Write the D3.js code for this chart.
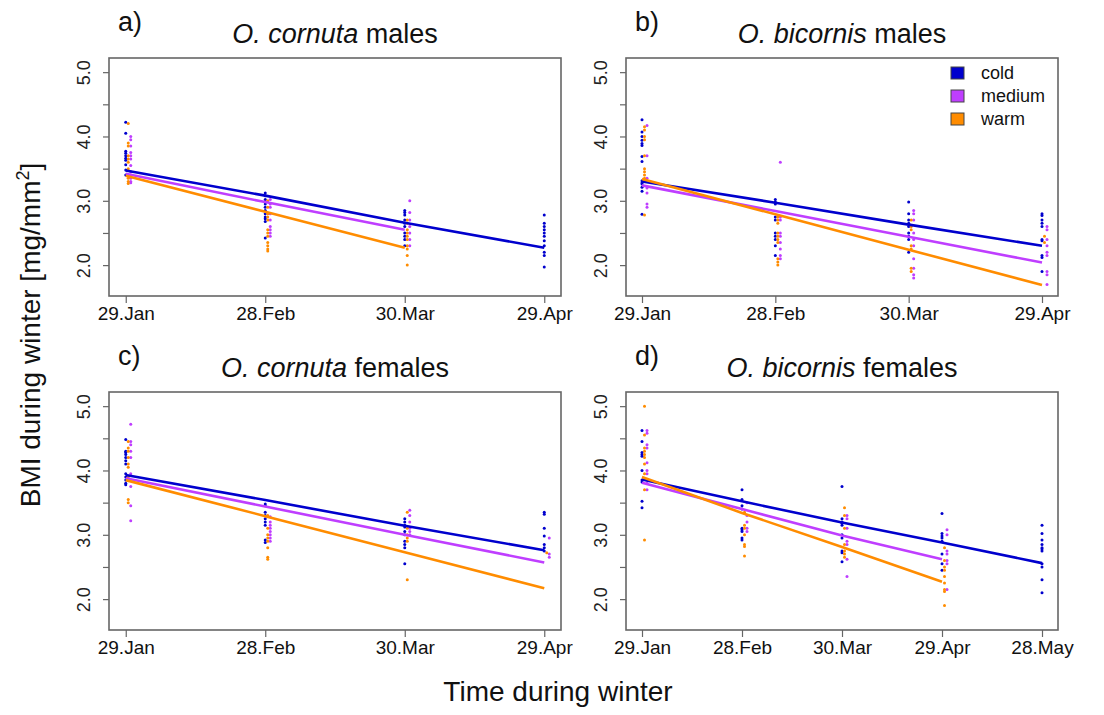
<!DOCTYPE html>
<html>
<head>
<meta charset="utf-8">
<script src="https://cdn.jsdelivr.net/npm/d3@7"></script>
<style>
  body { margin: 0; background: #fff; }
  svg { display: block; font-family: "Liberation Sans", Arial, sans-serif; }
</style>
</head>
<body>
<svg id="chart" width="1104" height="715"></svg>
<script>
// sampling dates (days after 29 Jan) and their labels
const sampleDays = [0, 30, 60, 90, 120];
const sampleLabels = ["29.Jan", "28.Feb", "30.Mar", "29.Apr", "28.May"];
const groups = ["cold", "medium", "warm"];
const groupColors = { cold: "#0000CD", medium: "#BF3EFF", warm: "#FF8C00" };

// a) O. cornuta males - BMI per sampling date
const cornutaMalesCold = [
  [4.22, 4.05, 3.77, 3.74, 3.70, 3.66, 3.63, 3.56, 3.48, 3.40],
  [3.12, 3.08, 3.02, 2.95, 2.90, 2.85, 2.80, 2.75, 2.72, 2.68, 2.42],
  [2.85, 2.82, 2.78, 2.70, 2.65, 2.60, 2.50, 2.45, 2.40, 2.30],
  [2.78, 2.65, 2.60, 2.55, 2.50, 2.45, 2.38, 2.30, 2.20, 2.15, 1.97]
];
const cornutaMalesMedium = [
  [4.00, 3.95, 3.85, 3.75, 3.70, 3.65, 3.55, 3.45, 3.40, 3.35, 3.30, 3.28],
  [3.02, 2.95, 2.90, 2.80, 2.70, 2.60, 2.55, 2.50, 2.45],
  [3.00, 2.82, 2.70, 2.60, 2.50, 2.40, 2.30]
];
const cornutaMalesWarm = [
  [4.20, 3.90, 3.85, 3.70, 3.65, 3.60, 3.50, 3.40, 3.35, 3.30, 3.27],
  [3.00, 2.90, 2.80, 2.75, 2.70, 2.55, 2.50, 2.45, 2.35, 2.30, 2.25, 2.22],
  [2.70, 2.65, 2.55, 2.50, 2.45, 2.40, 2.30, 2.25, 2.15, 2.00]
];
const cornutaMalesFit = { cold: [3.47, 3.08, 2.66, 2.27], medium: [3.42, 2.98, 2.55], warm: [3.39, 2.83, 2.27] };

// b) O. bicornis males
const bicornisMalesCold = [
  [4.26, 4.07, 4.00, 3.94, 3.89, 3.86, 3.69, 3.61, 3.31, 3.28, 3.26, 3.21, 3.15, 2.79],
  [3.02, 2.98, 2.95, 2.75, 2.70, 2.50, 2.45, 2.40, 2.30, 2.15],
  [2.98, 2.80, 2.70, 2.65, 2.60, 2.50, 2.45, 2.40, 2.20],
  [2.80, 2.77, 2.70, 2.65, 2.60, 2.40, 2.38, 2.15, 2.12, 1.90]
];
const bicornisMalesMedium = [
  [4.17, 3.70, 3.35, 3.30, 3.20, 3.12, 2.95, 2.90],
  [3.60, 2.75, 2.70, 2.50, 2.45, 2.35, 2.25, 2.15, 2.10],
  [2.85, 2.80, 2.70, 2.50, 2.40, 2.30, 2.10, 1.95, 1.85, 1.80],
  [2.60, 2.55, 2.40, 2.30, 2.20, 2.15, 1.90, 1.85, 1.70]
];
const bicornisMalesWarm = [
  [4.15, 4.10, 4.00, 3.95, 3.70, 3.50, 3.45, 3.40, 3.35, 3.30, 2.78],
  [2.75, 2.70, 2.65, 2.50, 2.45, 2.40, 2.35, 2.10, 2.05, 2.00],
  [2.70, 2.60, 2.55, 2.30, 2.25, 1.95, 1.90],
  [2.45, 2.35]
];
const bicornisMalesFit = { cold: [3.30, 2.97, 2.63, 2.30], medium: [3.24, 2.84, 2.44, 2.04], warm: [3.34, 2.79, 2.24, 1.69] };

// c) O. cornuta females
const cornutaFemalesCold = [
  [4.48, 4.30, 4.28, 4.25, 4.20, 4.15, 4.10, 3.95, 3.90, 3.85, 3.80, 3.78],
  [3.48, 3.45, 3.35, 3.30, 3.25, 3.20, 3.15, 2.92, 2.88],
  [3.25, 3.20, 3.15, 3.12, 3.05, 3.00, 2.90, 2.85, 2.80, 2.55],
  [3.35, 3.32, 3.10, 2.98, 2.85, 2.80, 2.75]
];
const cornutaFemalesMedium = [
  [4.72, 4.45, 4.40, 4.30, 4.20, 3.95, 3.75, 3.45, 3.22],
  [3.28, 3.20, 3.15, 3.10, 3.05, 3.00, 2.95, 2.90],
  [3.38, 3.30, 3.20, 3.10, 3.05, 3.00],
  [2.95, 2.70, 2.65]
];
const cornutaFemalesWarm = [
  [4.45, 4.35, 4.30, 4.20, 4.10, 4.05, 3.90, 3.85, 3.55, 3.50],
  [3.30, 3.10, 3.00, 2.95, 2.90, 2.80, 2.65, 2.62],
  [3.35, 3.10, 3.00, 2.95, 2.90, 2.30],
  [2.72]
];
const cornutaFemalesFit = { cold: [3.93, 3.54, 3.14, 2.76], medium: [3.88, 3.44, 3.00, 2.57], warm: [3.85, 3.29, 2.73, 2.17] };

// d) O. bicornis females
const bicornisFemalesCold = [
  [4.62, 4.45, 4.28, 4.25, 4.22, 4.00, 3.85, 3.82, 3.52, 3.42],
  [3.70, 3.55, 3.45, 3.40, 3.10, 3.08, 3.05, 2.95, 2.92],
  [3.75, 3.25, 3.20, 3.18, 3.15, 3.00, 2.95, 2.75, 2.72, 2.58],
  [3.33, 3.02, 2.98, 2.95, 2.90, 2.70, 2.55, 2.45],
  [3.15, 3.02, 2.92, 2.85, 2.80, 2.78, 2.75, 2.55, 2.50, 2.30, 2.10]
];
const bicornisFemalesMedium = [
  [4.62, 4.58, 4.40, 4.35, 4.12, 4.00, 3.95, 3.80, 3.70],
  [3.50, 3.30, 3.20, 3.10, 3.05],
  [3.30, 3.25, 3.10, 2.90, 2.85, 2.62, 2.35],
  [3.08, 3.00, 2.75, 2.70, 2.60, 2.55, 2.15]
];
const bicornisFemalesWarm = [
  [5.00, 4.55, 4.35, 4.30, 4.25, 4.20, 4.10, 3.95, 3.70, 2.92],
  [3.35, 3.15, 3.10, 3.00, 2.85, 2.82, 2.67],
  [3.42, 3.30, 3.10, 2.85, 2.75, 2.70, 2.65],
  [2.80, 2.60, 2.50, 2.45, 2.35, 2.25, 2.15, 2.12, 1.90]
];
const bicornisFemalesFit = { cold: [3.86, 3.52, 3.19, 2.88, 2.56], medium: [3.81, 3.40, 2.99, 2.62], warm: [3.90, 3.34, 2.81, 2.27] };

const yTicks = [2, 2.5, 3, 3.5, 4, 4.5, 5];

const panels = [
  { letter: "a)", species: "O. cornuta", sex: "males", left: 109, top: 58, width: 452, nDates: 4,
    points: { cold: cornutaMalesCold, medium: cornutaMalesMedium, warm: cornutaMalesWarm }, fit: cornutaMalesFit },
  { letter: "b)", species: "O. bicornis", sex: "males", left: 626, top: 58, width: 432, nDates: 4, legend: true,
    points: { cold: bicornisMalesCold, medium: bicornisMalesMedium, warm: bicornisMalesWarm }, fit: bicornisMalesFit },
  { letter: "c)", species: "O. cornuta", sex: "females", left: 109, top: 392, width: 452, nDates: 4,
    points: { cold: cornutaFemalesCold, medium: cornutaFemalesMedium, warm: cornutaFemalesWarm }, fit: cornutaFemalesFit },
  { letter: "d)", species: "O. bicornis", sex: "females", left: 626, top: 392, width: 432, nDates: 5,
    points: { cold: bicornisFemalesCold, medium: bicornisFemalesMedium, warm: bicornisFemalesWarm }, fit: bicornisFemalesFit }
];

const panelHeight = 238;
const jitter = { cold: 0, warm: 2.5, medium: 5 };

const svg = d3.select("#chart");
svg.append("rect").attr("width", 1104).attr("height", 715).attr("fill", "#fff");

panels.forEach(p => {
  const days = sampleDays.slice(0, p.nDates);
  const lastDay = days[days.length - 1];
  const pad = lastDay * 0.04;
  const x = d3.scaleLinear().domain([-pad, lastDay + pad]).range([0, p.width]);
  const y = d3.scaleLinear().domain([1.52, 5.22]).range([panelHeight, 0]);

  const g = svg.append("g").attr("transform", `translate(${p.left},${p.top})`);

  // titles
  g.append("text")
    .attr("x", 9).attr("y", -27)
    .attr("font-size", 27).attr("fill", "#111")
    .text(p.letter);
  const title = g.append("text")
    .attr("x", p.width / 2).attr("y", -15)
    .attr("text-anchor", "middle")
    .attr("font-size", 27).attr("fill", "#111");
  title.append("tspan").attr("font-style", "italic").text(p.species);
  title.append("tspan").text(" " + p.sex);

  // points
  groups.forEach(grp => {
    const flat = p.points[grp].flatMap((vals, i) => vals.map(v => ({ day: days[i], v })));
    g.append("g").selectAll("circle")
      .data(flat)
      .join("circle")
      .attr("cx", d => x(d.day) + jitter[grp])
      .attr("cy", d => y(d.v))
      .attr("r", 1.5)
      .attr("fill", groupColors[grp]);
  });

  // fitted lines
  const line = d3.line().x(d => x(d.day)).y(d => y(d.v));
  groups.forEach(grp => {
    const pts = p.fit[grp].map((v, i) => ({ day: days[i], v }));
    g.append("path")
      .attr("d", line(pts))
      .attr("fill", "none")
      .attr("stroke", groupColors[grp])
      .attr("stroke-width", 2.6);
  });

  // axes
  const xAxis = d3.axisBottom(x)
    .tickValues(days)
    .tickFormat((d, i) => sampleLabels[i])
    .tickSize(7).tickPadding(4);
  const xg = g.append("g").attr("transform", `translate(0,${panelHeight})`).call(xAxis);
  xg.select(".domain").remove();
  xg.selectAll("line").attr("stroke", "#666").attr("stroke-width", 1.2);
  xg.selectAll("text").attr("font-size", 19).attr("fill", "#111")
    .attr("font-family", "Liberation Sans, Arial, sans-serif");

  const yAxis = d3.axisLeft(y)
    .tickValues(yTicks)
    .tickFormat(d => d % 1 === 0 ? d.toFixed(1) : "")
    .tickSize(6);
  const yg = g.append("g").call(yAxis);
  yg.select(".domain").remove();
  yg.selectAll("line").attr("stroke", "#666").attr("stroke-width", 1.2);
  yg.selectAll("text")
    .attr("x", 0).attr("y", -19).attr("dy", 0)
    .attr("text-anchor", "middle")
    .attr("transform", "rotate(-90)")
    .attr("font-size", 18).attr("fill", "#222")
    .attr("font-family", "Liberation Sans, Arial, sans-serif");

  // frame
  g.append("rect")
    .attr("width", p.width).attr("height", panelHeight)
    .attr("fill", "none").attr("stroke", "#666").attr("stroke-width", 1.6);

  // legend
  if (p.legend) {
    const lg = g.append("g").attr("transform", `translate(${p.width - 107},15)`);
    groups.forEach((grp, i) => {
      lg.append("rect")
        .attr("x", 0).attr("y", i * 23 - 6)
        .attr("width", 13).attr("height", 12)
        .attr("fill", groupColors[grp]).attr("stroke", "#444").attr("stroke-width", 1);
      lg.append("text")
        .attr("x", 30).attr("y", i * 23 + 6)
        .attr("font-size", 18).attr("fill", "#111")
        .text(grp);
    });
  }
});

// shared axis titles
svg.append("text")
  .attr("x", 558).attr("y", 701)
  .attr("text-anchor", "middle")
  .attr("font-size", 28).attr("fill", "#111")
  .text("Time during winter");

const yTitle = svg.append("text")
  .attr("transform", "translate(40,335) rotate(-90)")
  .attr("text-anchor", "middle")
  .attr("font-size", 28).attr("fill", "#111");
yTitle.append("tspan").text("BMI during winter [mg/mm");
yTitle.append("tspan").attr("font-size", 18).attr("dy", -11).text("2");
yTitle.append("tspan").attr("dy", 11).text("]");
</script>
</body>
</html>
